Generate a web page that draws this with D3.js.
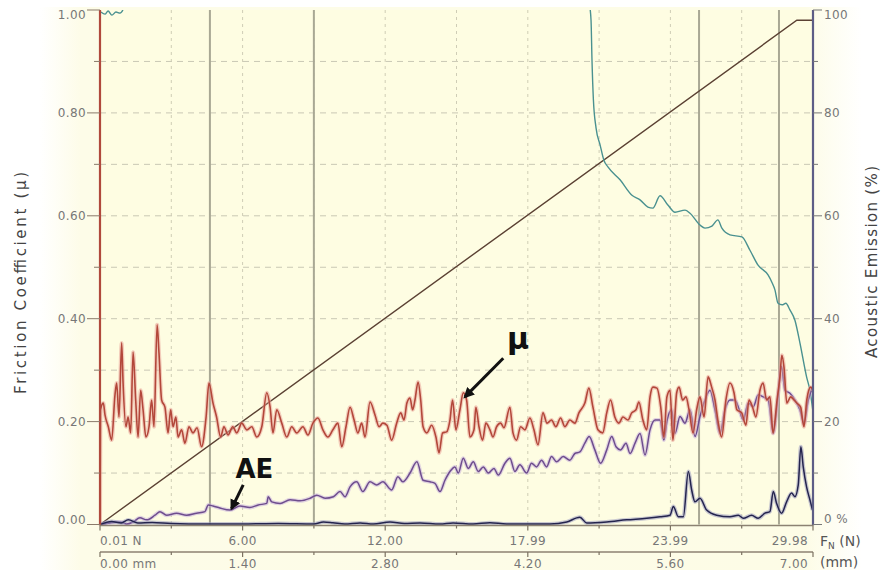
<!DOCTYPE html>
<html><head><meta charset="utf-8">
<script src="https://cdn.jsdelivr.net/npm/d3@7"></script>
<style>
html,body{margin:0;padding:0;background:#fff;}
svg{display:block;}
text{font-family:"DejaVu Sans",Verdana,sans-serif;}
</style></head><body>
<svg id="chart" width="883" height="570"></svg>
<script>
// ---------- data ----------
const mmTicks = [0, 1.4, 2.8, 4.2, 5.6, 7.0];
const mmMinorTicks = [0.7, 2.1, 3.5, 4.9, 6.3];
const fnTickLabels = ["0.01 N", "6.00", "12.00", "17.99", "23.99", "29.98"];
const mmTickLabels = ["0.00 mm", "1.40", "2.80", "4.20", "5.60", "7.00"];
const muTicks = [0, 0.2, 0.4, 0.6, 0.8, 1.0];
const muTickLabels = ["0.00", "0.20", "0.40", "0.60", "0.80", "1.00"];
const muGrid = [0.1, 0.2, 0.3, 0.4, 0.5, 0.6, 0.7, 0.8, 0.9];
const aeTicks = [0, 20, 40, 60, 80, 100];
const aeTickLabels = ["0 %", "20", "40", "60", "80", "100"];
const criticalLoads = [4.63, 9.00, 25.19, 28.55]; // N
const normalLoad = [[0.01, 0], [29.3, 98], [29.98, 98]]; // [Fn N, %]
// friction coefficient [Fn N, mu]
const frictionMu = [
[0.01,0],[0.03,0.223],[0.15,0.236],[0.22,0.213],[0.36,0.190],[0.50,0.164],[0.64,0.252],[0.71,0.275],[0.81,0.209],[0.92,0.353],[0.98,0.275],[1.10,0.190],[1.19,0.209],[1.30,0.178],[1.40,0.335],[1.51,0.242],[1.61,0.170],[1.72,0.261],[1.82,0.223],[1.94,0.170],[2.07,0.190],[2.18,0.242],[2.28,0.190],[2.41,0.388],[2.49,0.333],[2.60,0.242],[2.74,0.228],[2.87,0.178],[2.98,0.223],[3.08,0.190],[3.20,0.209],[3.29,0.170],[3.44,0.184],[3.58,0.158],[3.75,0.190],[3.92,0.178],[4.09,0.188],[4.28,0.151],[4.47,0.209],[4.59,0.275],[4.76,0.236],[4.91,0.209],[5.08,0.170],[5.22,0.190],[5.39,0.174],[5.59,0.190],[5.76,0.178],[5.97,0.197],[6.18,0.184],[6.39,0.190],[6.60,0.170],[6.81,0.190],[7.02,0.256],[7.16,0.228],[7.28,0.178],[7.44,0.223],[7.65,0.197],[7.86,0.170],[8.07,0.190],[8.28,0.178],[8.54,0.190],[8.75,0.174],[8.96,0.197],[9.17,0.207],[9.38,0.184],[9.59,0.170],[9.80,0.184],[10.01,0.197],[10.17,0.151],[10.35,0.190],[10.52,0.228],[10.69,0.203],[10.85,0.178],[11.01,0.197],[11.15,0.170],[11.36,0.238],[11.57,0.213],[11.74,0.190],[11.90,0.197],[12.07,0.193],[12.27,0.164],[12.48,0.197],[12.65,0.217],[12.79,0.203],[12.91,0.236],[13.04,0.246],[13.15,0.223],[13.25,0.242],[13.38,0.277],[13.49,0.242],[13.59,0.190],[13.75,0.178],[13.95,0.193],[14.13,0.170],[14.26,0.139],[14.41,0.178],[14.58,0.180],[14.72,0.203],[14.83,0.242],[14.97,0.184],[15.14,0.223],[15.28,0.256],[15.42,0.242],[15.56,0.170],[15.73,0.184],[15.81,0.228],[15.94,0.190],[16.09,0.164],[16.23,0.197],[16.40,0.184],[16.53,0.170],[16.68,0.190],[16.85,0.197],[16.99,0.188],[17.24,0.228],[17.37,0.178],[17.52,0.164],[17.69,0.190],[17.87,0.184],[18.08,0.207],[18.25,0.184],[18.42,0.155],[18.63,0.217],[18.80,0.197],[18.99,0.203],[19.17,0.190],[19.37,0.207],[19.55,0.190],[19.76,0.203],[19.97,0.197],[20.14,0.217],[20.39,0.236],[20.56,0.265],[20.73,0.228],[20.94,0.184],[21.14,0.178],[21.31,0.217],[21.47,0.242],[21.65,0.209],[21.82,0.197],[21.99,0.209],[22.20,0.203],[22.36,0.217],[22.54,0.223],[22.66,0.238],[22.83,0.203],[22.99,0.184],[23.13,0.248],[23.25,0.267],[23.42,0.265],[23.58,0.228],[23.71,0.170],[23.84,0.248],[23.97,0.261],[24.09,0.164],[24.25,0.256],[24.35,0.267],[24.50,0.242],[24.64,0.248],[24.77,0.223],[24.94,0.178],[25.09,0.223],[25.23,0.248],[25.40,0.209],[25.57,0.287],[25.72,0.267],[25.86,0.242],[25.98,0.203],[26.14,0.170],[26.32,0.242],[26.49,0.275],[26.66,0.256],[26.78,0.223],[26.98,0.217],[27.16,0.193],[27.29,0.242],[27.44,0.228],[27.58,0.209],[27.75,0.261],[27.88,0.275],[28.03,0.242],[28.17,0.248],[28.30,0.178],[28.47,0.242],[28.59,0.287],[28.67,0.329],[28.76,0.306],[28.88,0.236],[29.04,0.248],[29.18,0.242],[29.30,0.236],[29.46,0.228],[29.60,0.190],[29.72,0.242],[29.88,0.267],[29.98,0.261]
];
// acoustic emission, smoothed (purple) [Fn N, %]
const aeSmooth = [
[0.08,0],[0.43,0.3],[0.85,0.5],[1.13,0.1],[1.40,0.5],[1.69,1.3],[1.97,0.9],[2.32,1.8],[2.53,2.5],[2.81,1.8],[3.23,2.2],[3.65,1.8],[4.07,2.2],[4.42,2.5],[4.56,3.8],[4.76,3.6],[5.05,3.2],[5.47,2.8],[5.89,3.6],[6.31,3.3],[6.66,3.8],[7.02,4.1],[7.08,5.4],[7.23,4.4],[7.58,4.1],[8.00,4.8],[8.42,4.6],[8.84,5.1],[9.12,5.7],[9.47,5.1],[9.82,5.4],[10.10,6.4],[10.31,5.4],[10.52,7.3],[10.80,8.3],[11.06,6.4],[11.36,8.3],[11.64,7.7],[11.90,8.3],[12.27,6.7],[12.53,9.3],[12.74,8.3],[13.04,10.0],[13.33,12.2],[13.59,8.6],[13.88,8.3],[14.09,8.0],[14.30,6.4],[14.51,8.6],[14.72,10.3],[14.93,11.2],[15.07,10.0],[15.28,12.9],[15.49,10.9],[15.70,12.2],[15.91,10.3],[16.12,11.2],[16.33,10.0],[16.57,10.9],[16.75,9.6],[17.03,11.9],[17.24,12.9],[17.45,10.3],[17.66,11.6],[17.94,10.0],[18.15,11.9],[18.36,11.2],[18.57,12.5],[18.78,11.2],[18.99,13.2],[19.20,12.2],[19.48,13.2],[19.76,12.5],[19.97,13.8],[20.18,14.1],[20.39,15.8],[20.57,17.1],[20.81,14.5],[21.05,11.9],[21.31,14.5],[21.52,17.1],[21.70,15.1],[21.89,14.5],[22.12,15.8],[22.29,13.8],[22.50,15.8],[22.71,17.7],[22.92,13.5],[23.13,18.4],[23.34,20.3],[23.55,20.3],[23.71,16.4],[23.85,20.3],[24.04,22.3],[24.18,17.7],[24.39,21.0],[24.60,19.7],[24.81,22.3],[25.02,17.1],[25.23,21.0],[25.44,24.2],[25.65,26.1],[25.86,22.3],[26.07,17.7],[26.28,22.3],[26.49,24.2],[26.70,24.2],[26.88,22.3],[27.05,20.3],[27.26,23.6],[27.47,22.9],[27.68,25.2],[27.89,24.8],[28.10,24.2],[28.31,17.7],[28.52,25.5],[28.66,30.7],[28.80,26.1],[29.01,25.5],[29.22,24.2],[29.43,22.3],[29.60,19.7],[29.78,24.2],[29.98,26.8]
];
// acoustic emission, raw (dark navy) [Fn N, %]
const aeRaw = [
[0.01,0],[0.5,0.6],[0.9,0.3],[1.2,0.9],[1.6,0.3],[2.2,0.4],[3.0,0.2],[4.5,0.1],[6.0,0.1],[7.5,0.2],[9.0,0.1],[9.4,0.5],[9.80,0.35],[10.3,0.1],[10.94,0.3],[11.5,0.1],[12.2,0.5],[12.8,0.2],[13.46,0.3],[14.3,0.1],[14.85,0.3],[15.69,0.1],[16.40,0.35],[17.10,0.1],[17.94,0.1],[18.92,0.1],[19.63,0.5],[20.18,1.4],[20.47,0.3],[21.31,0.5],[22.15,0.9],[22.99,1.2],[23.55,1.5],[23.97,1.8],[24.11,3.5],[24.32,1.5],[24.53,1.5],[24.74,10.3],[24.88,6.7],[25.02,4.4],[25.23,5.1],[25.51,2.8],[25.93,1.8],[26.49,1.5],[26.84,1.8],[27.05,1.2],[27.40,1.8],[27.68,1.2],[27.96,2.2],[28.17,2.5],[28.31,6.4],[28.45,4.1],[28.66,2.2],[28.87,4.4],[29.08,6.1],[29.22,5.4],[29.36,7.7],[29.47,15.1],[29.57,11.2],[29.71,7.3],[29.85,4.8],[29.96,2.8]
];
// penetration / residual signal (teal) [Fn N, %] (values above 100 run off the plot)
const depthCurve = [
[0.05,99.6],[0.22,99.2],[0.35,99.8],[0.51,99.0],[0.68,99.6],[0.85,99.4],[1.02,100.6],[1.19,104],[5,115],[15,115],[20.5,104],[20.56,102],[20.65,98],[20.69,90.3],[20.75,82.5],[20.86,77.1],[21.03,73.8],[21.19,70.8],[21.36,69.5],[21.87,67.0],[22.37,64.0],[22.71,63.1],[23.04,61.7],[23.25,61.5],[23.55,63.9],[23.88,62.1],[24.18,60.7],[24.60,61.1],[24.81,60.5],[25.23,58.2],[25.44,57.6],[25.73,58.0],[25.98,59.2],[26.15,57.6],[26.49,56.3],[26.99,55.9],[27.33,53.3],[27.67,50.4],[28.09,48.5],[28.25,47.1],[28.38,45.6],[28.51,43.0],[28.68,42.7],[28.84,43.0],[29.01,41.7],[29.22,39.7],[29.43,35.3],[29.71,28.7],[29.85,26.1],[29.98,21.9]
];
const annotations = [
  {label: "\u03bc", fn: 17.58, mu: 0.341, size: 30, from: [16.96, 0.323], to: [15.35, 0.248]},
  {label: "AE", fn: 6.50, mu: 0.090, size: 26, from: [6.03, 0.077], to: [5.54, 0.031]}
];

// ---------- layout ----------
const L = 100, R = 813, T = 10, B = 524.5;
const svg = d3.select("#chart");
const defs = svg.append("defs");

const xFn = d3.scaleLinear().domain([0.01, 29.98]).range([L, R]);
const xMm = d3.scaleLinear().domain([0, 7]).range([L, R]);
const yMu = d3.scaleLinear().domain([0, 1]).range([B, T]);
const yAe = d3.scaleLinear().domain([0, 100]).range([B, T]);

// background
const grad = defs.append("linearGradient").attr("id", "bg").attr("x1", 0).attr("x2", 1).attr("y1", 0).attr("y2", 0);
[[0, "#ffffff"], [0.05, "#fdfce8"], [0.93, "#fdfce6"], [1, "#ffffff"]].forEach(s =>
  grad.append("stop").attr("offset", s[0]).attr("stop-color", s[1]));
svg.append("rect").attr("width", 883).attr("height", 570).attr("fill", "#fff");
svg.append("rect").attr("x", 40).attr("y", 7).attr("width", 822).attr("height", 563).attr("fill", "url(#bg)");
svg.append("rect").attr("x", L).attr("y", T).attr("width", R - L).attr("height", B - T).attr("fill", "#fefde2");

defs.append("clipPath").attr("id", "plotclip").append("rect")
  .attr("x", L).attr("y", T).attr("width", R - L + 1).attr("height", B - T + 1);

// grid
const grid = svg.append("g");
grid.selectAll("line.h").data(muGrid).join("line")
  .attr("x1", L).attr("x2", R).attr("y1", d => yMu(d)).attr("y2", d => yMu(d))
  .attr("stroke", "#c9c8b4").attr("stroke-width", 1).attr("stroke-dasharray", "6,5");
grid.selectAll("line.v").data(mmMinorTicks.concat(mmTicks.slice(1, 5))).join("line")
  .attr("x1", d => xMm(d)).attr("x2", d => xMm(d)).attr("y1", T).attr("y2", B)
  .attr("stroke", "#cfcdb6").attr("stroke-width", 1).attr("stroke-dasharray", "3,4");

// critical load markers
svg.append("g").selectAll("line").data(criticalLoads).join("line")
  .attr("x1", d => xFn(d)).attr("x2", d => xFn(d)).attr("y1", T).attr("y2", B)
  .attr("stroke", "#a9a894").attr("stroke-width", 2);

// series
const plot = svg.append("g").attr("clip-path", "url(#plotclip)");
const lineAe = d3.line().x(d => xFn(d[0])).y(d => yAe(d[1]));
const lineMu = d3.line().x(d => xFn(d[0])).y(d => yMu(d[1]));
const smoothAe = d3.line().curve(d3.curveMonotoneX).x(d => xFn(d[0])).y(d => yAe(d[1]));
const smoothMu = d3.line().curve(d3.curveMonotoneX).x(d => xFn(d[0])).y(d => yMu(d[1]));

plot.append("path").datum(normalLoad).attr("d", lineAe)
  .attr("fill", "none").attr("stroke", "#5b4133").attr("stroke-width", 1.4);
plot.append("path").datum(depthCurve).attr("d", smoothAe)
  .attr("fill", "none").attr("stroke", "#4a9190").attr("stroke-width", 1.4);

function halo(data, gen, light, dark, w) {
  plot.append("path").datum(data).attr("d", gen).attr("fill", "none")
    .attr("stroke", light).attr("stroke-width", w + 2.4).attr("stroke-linejoin", "round").attr("opacity", 0.55);
  plot.append("path").datum(data).attr("d", gen).attr("fill", "none")
    .attr("stroke", dark).attr("stroke-width", w).attr("stroke-linejoin", "round");
}
halo(aeSmooth, smoothAe, "#c8b3dc", "#6e4d8e", 1.5);
halo(frictionMu, smoothMu, "#eaa59b", "#b3473a", 1.6);
halo(aeRaw, smoothAe, "#9a9ac0", "#24244e", 1.5);

// left axis
const axL = svg.append("g");
axL.append("line").attr("x1", L).attr("x2", L).attr("y1", T).attr("y2", B + 1)
  .attr("stroke", "#b0493c").attr("stroke-width", 2.2);
axL.selectAll("line.mj").data(muTicks).join("line")
  .attr("x1", L - 13).attr("x2", L).attr("y1", d => yMu(d)).attr("y2", d => yMu(d))
  .attr("stroke", "#8a7a6a").attr("stroke-width", 1);
axL.selectAll("line.mn").data([0.1, 0.3, 0.5, 0.7, 0.9]).join("line")
  .attr("x1", L - 6).attr("x2", L).attr("y1", d => yMu(d)).attr("y2", d => yMu(d))
  .attr("stroke", "#8a7a6a").attr("stroke-width", 1);
axL.selectAll("text").data(muTicks).join("text")
  .attr("x", L - 14).attr("y", (d, i) => yMu(d) + (i === 0 ? -1 : i === muTicks.length - 1 ? 9 : 4.5))
  .attr("text-anchor", "end").attr("font-size", 12).attr("fill", "#777").attr("letter-spacing", 0.4)
  .text((d, i) => muTickLabels[i]);

// right axis
const axR = svg.append("g");
axR.append("line").attr("x1", R).attr("x2", R).attr("y1", T).attr("y2", B + 1)
  .attr("stroke", "#5d5d86").attr("stroke-width", 2.2);
axR.selectAll("line.mj").data(aeTicks).join("line")
  .attr("x1", R).attr("x2", R + 9).attr("y1", d => yAe(d)).attr("y2", d => yAe(d))
  .attr("stroke", "#777").attr("stroke-width", 1);
axR.selectAll("line.mn").data([10, 30, 50, 70, 90]).join("line")
  .attr("x1", R).attr("x2", R + 5).attr("y1", d => yAe(d)).attr("y2", d => yAe(d))
  .attr("stroke", "#777").attr("stroke-width", 1);
axR.selectAll("text").data(aeTicks).join("text")
  .attr("x", R + 11).attr("y", (d, i) => yAe(d) + (i === 0 ? -2 : i === aeTicks.length - 1 ? 9 : 4.5))
  .attr("font-size", 12).attr("fill", "#777").attr("letter-spacing", 0.4)
  .text((d, i) => aeTickLabels[i]);

// bottom axes
const axB = svg.append("g");
const y1 = B + 1, y2 = 552;
axB.append("line").attr("x1", L).attr("x2", R).attr("y1", y1).attr("y2", y1).attr("stroke", "#8c8272").attr("stroke-width", 1.6);
axB.append("line").attr("x1", L).attr("x2", R).attr("y1", y2).attr("y2", y2).attr("stroke", "#8c8272").attr("stroke-width", 1.4);
[y1, y2].forEach(yy => {
  axB.append("g").selectAll("line").data(mmTicks).join("line")
    .attr("x1", d => xMm(d)).attr("x2", d => xMm(d)).attr("y1", yy).attr("y2", yy + 5)
    .attr("stroke", "#7c7262").attr("stroke-width", 1.2);
  axB.append("g").selectAll("line").data(mmMinorTicks).join("line")
    .attr("x1", d => xMm(d)).attr("x2", d => xMm(d)).attr("y1", yy).attr("y2", yy + 3)
    .attr("stroke", "#7c7262").attr("stroke-width", 1.2);
});
function anchorFor(i, n) { return i === 0 ? "start" : i === n - 1 ? "end" : "middle"; }
function xFor(d, i, n) { return xMm(d) + (i === 0 ? 0 : i === n - 1 ? -5 : 0); }
axB.append("g").selectAll("text").data(mmTicks).join("text")
  .attr("x", (d, i) => xFor(d, i, mmTicks.length)).attr("y", 545)
  .attr("text-anchor", (d, i) => anchorFor(i, mmTicks.length))
  .attr("font-size", 12).attr("fill", "#777").attr("letter-spacing", 0.4)
  .text((d, i) => fnTickLabels[i]);
axB.append("g").selectAll("text").data(mmTicks).join("text")
  .attr("x", (d, i) => xFor(d, i, mmTicks.length)).attr("y", 568)
  .attr("text-anchor", (d, i) => anchorFor(i, mmTicks.length))
  .attr("font-size", 12).attr("fill", "#777").attr("letter-spacing", 0.4)
  .text((d, i) => mmTickLabels[i]);

// unit labels
const fnLbl = svg.append("text").attr("x", 820).attr("y", 546).attr("font-size", 14).attr("fill", "#555");
fnLbl.append("tspan").text("F");
fnLbl.append("tspan").attr("font-size", 9).attr("dy", 3).text("N");
fnLbl.append("tspan").attr("dy", -3).text(" (N)");
svg.append("text").attr("x", 820).attr("y", 567).attr("font-size", 14).attr("fill", "#555").text("(mm)");

// axis titles
svg.append("text").attr("transform", "translate(21,283) rotate(-90)")
  .attr("text-anchor", "middle").attr("dominant-baseline", "central")
  .attr("font-family", "'Open Sans', sans-serif").attr("font-size", 15).attr("fill", "#444")
  .attr("textLength", 222).attr("lengthAdjust", "spacing")
  .text("Friction Coefficient (\u03bc)");
svg.append("text").attr("transform", "translate(872,262) rotate(-90)")
  .attr("text-anchor", "middle").attr("dominant-baseline", "central")
  .attr("font-family", "'Open Sans', sans-serif").attr("font-size", 15).attr("fill", "#444")
  .attr("textLength", 192).attr("lengthAdjust", "spacing")
  .text("Acoustic Emission (%)");

// annotations
defs.append("marker").attr("id", "ah").attr("viewBox", "0 0 10 10").attr("refX", 8).attr("refY", 5)
  .attr("markerWidth", 3.6).attr("markerHeight", 3.6).attr("orient", "auto")
  .append("path").attr("d", "M0,0 L10,5 L0,10 z").attr("fill", "#111");
const ann = svg.append("g");
annotations.forEach(a => {
  ann.append("text").attr("x", xFn(a.fn)).attr("y", yMu(a.mu)).attr("text-anchor", "middle")
    .attr("font-family", "'Liberation Sans', Arial, sans-serif").attr("font-weight", "bold")
    .attr("font-size", a.size).attr("fill", "#111").text(a.label);
  ann.append("line").attr("x1", xFn(a.from[0])).attr("y1", yMu(a.from[1]))
    .attr("x2", xFn(a.to[0])).attr("y2", yMu(a.to[1]))
    .attr("stroke", "#111").attr("stroke-width", 3).attr("marker-end", "url(#ah)");
});
</script>
</body></html>
